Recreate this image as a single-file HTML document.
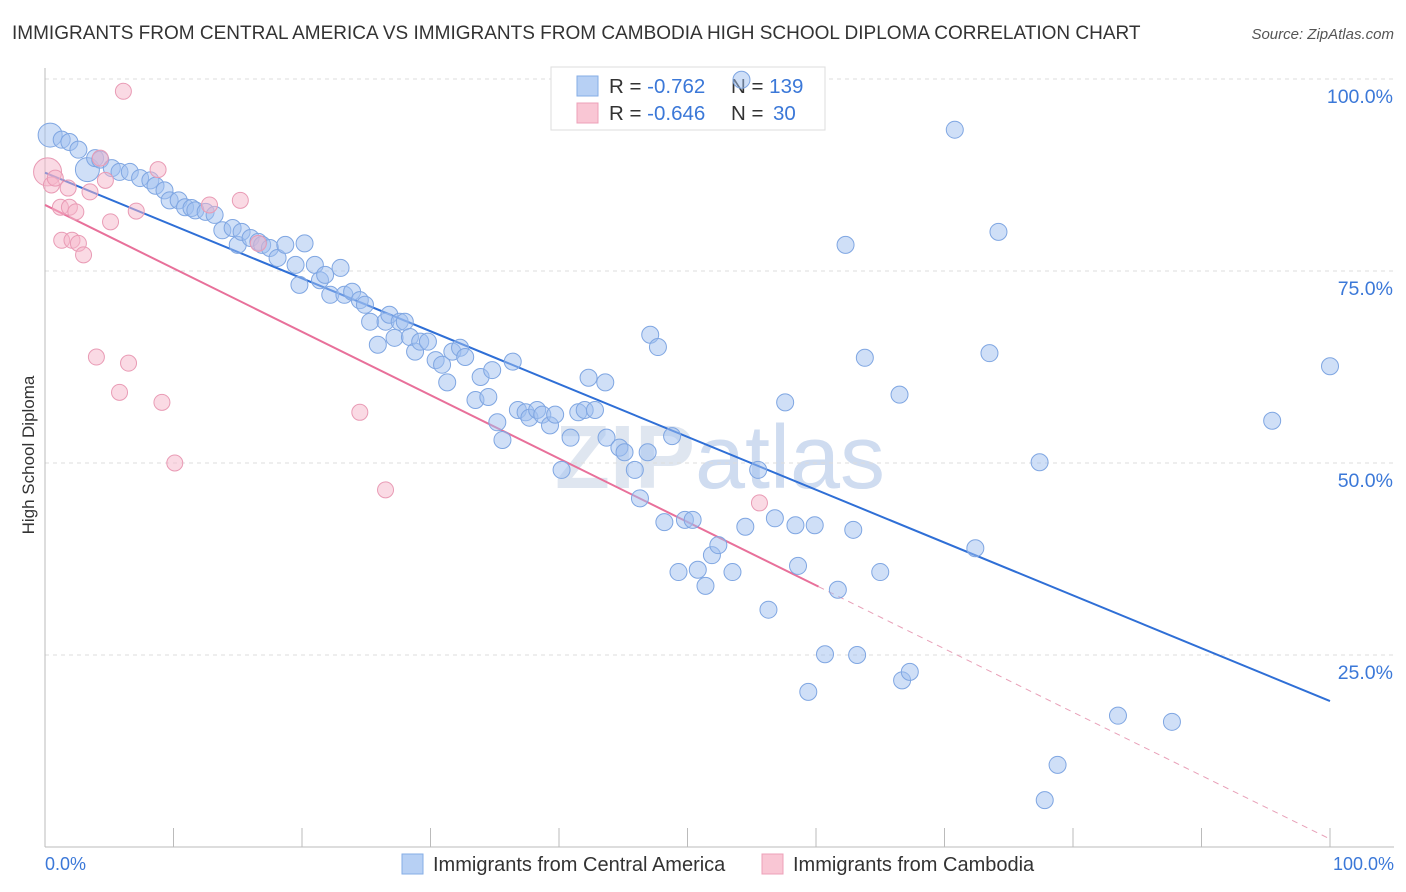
<!DOCTYPE html>
<html><head><meta charset="utf-8"><style>
body{margin:0;background:#fff;font-family:"Liberation Sans",sans-serif;}
svg{display:block}
</style></head><body>
<svg id="chart" width="1406" height="892" xmlns="http://www.w3.org/2000/svg">
<text x="12" y="39" font-size="19" fill="#333">IMMIGRANTS FROM CENTRAL AMERICA VS IMMIGRANTS FROM CAMBODIA HIGH SCHOOL DIPLOMA CORRELATION CHART</text>
<text x="1394" y="39" font-size="15" fill="#555" font-style="italic" text-anchor="end">Source: ZipAtlas.com</text>
<text x="720" y="488" font-size="90" fill="#dfe6f0" text-anchor="middle" font-weight="bold">ZIP<tspan font-weight="normal" fill="#cfdcf0">atlas</tspan></text>
<g id="grid"></g>
<g id="axes"></g>
<g>
<rect x="551" y="67" width="274" height="63" fill="#fff" stroke="#ddd"/>
<rect x="577" y="76" width="21" height="20" fill="#b7d0f4" stroke="#86aee6"/>
<rect x="577" y="103" width="21" height="20" fill="#f9c6d4" stroke="#eda0b8"/>
<text x="609" y="93" font-size="20.5" fill="#333">R = <tspan fill="#3b78d8">-0.762</tspan><tspan x="731">N = </tspan><tspan fill="#3b78d8">139</tspan></text>
<text x="609" y="120" font-size="20.5" fill="#333">R = <tspan fill="#3b78d8">-0.646</tspan><tspan x="731">N = </tspan><tspan fill="#3b78d8" x="773">30</tspan></text>
</g>
<g id="lines"></g>
<g id="points"></g>
<text transform="translate(34,455) rotate(-90)" font-size="17" fill="#333" text-anchor="middle">High School Diploma</text>
<text x="45" y="870" font-size="18" fill="#3b78d8">0.0%</text>
<text x="1394" y="870" font-size="18" fill="#3b78d8" text-anchor="end">100.0%</text>
<g>
<rect x="402" y="854" width="21" height="20" fill="#b7d0f4" stroke="#86aee6"/>
<text x="433" y="871" font-size="20" fill="#333">Immigrants from Central America</text>
<rect x="762" y="854" width="21" height="20" fill="#f9c6d4" stroke="#eda0b8"/>
<text x="793" y="871" font-size="20" fill="#333">Immigrants from Cambodia</text>
</g>
</svg>
<script>
const blueX=[0.4,1.3,1.9,2.6,3.3,3.9,4.3,5.2,5.8,6.6,7.4,8.2,8.6,9.3,9.7,10.4,10.9,11.4,11.7,12.5,13.2,13.8,14.6,15.0,15.3,16.0,16.6,16.9,17.5,18.1,18.7,19.5,19.8,20.2,21.0,21.4,21.8,22.2,23.0,23.3,23.9,24.5,24.9,25.3,25.9,26.5,26.8,27.2,27.6,28.0,28.4,28.8,29.2,29.8,30.4,30.9,31.3,31.7,32.3,32.7,33.5,33.9,34.5,34.8,35.2,35.6,36.4,36.8,37.4,37.7,38.3,38.7,39.3,39.7,40.2,40.9,41.5,42.0,42.3,42.8,43.6,43.7,44.7,45.1,45.9,46.3,46.9,47.1,47.7,48.2,48.8,49.3,49.8,50.4,50.8,51.4,51.9,52.4,53.5,54.5,55.5,56.3,56.8,57.6,58.4,58.6,59.4,59.9,60.7,61.7,62.3,62.9,63.2,63.8,65.0,66.5,66.7,67.3,70.8,72.4,73.5,74.2,77.4,77.8,78.8,83.5,87.7,95.5,100,54.2];
const blueY=[92.7,92.1,91.8,90.8,88.2,89.7,89.5,88.4,87.9,87.9,87.1,86.8,86.1,85.5,84.2,84.2,83.3,83.2,82.9,82.7,82.3,80.3,80.6,78.4,80.1,79.3,78.8,78.4,78.0,76.7,78.4,75.8,73.2,78.6,75.8,73.8,74.5,71.9,75.4,71.9,72.3,71.2,70.6,68.4,65.4,68.4,69.3,66.3,68.4,68.4,66.4,64.5,65.8,65.8,63.4,62.8,60.5,64.5,65.0,63.8,58.2,61.2,58.6,62.1,55.3,53.0,63.2,56.9,56.6,55.9,56.9,56.3,54.9,56.3,49.1,53.3,56.6,56.9,61.1,56.9,60.5,53.3,52.0,51.4,49.1,45.4,51.4,66.7,65.1,42.3,53.5,35.8,42.6,42.6,36.1,34.0,38.0,39.3,35.8,41.7,49.1,30.9,42.8,57.9,41.9,36.6,20.2,41.9,25.1,33.5,78.4,41.3,25.0,63.7,35.8,58.9,21.7,22.8,93.4,38.9,64.3,80.1,50.1,6.1,10.7,17.1,16.3,55.5,62.6,99.9];
const pinkX=[0.2,0.5,0.8,1.2,1.3,1.8,1.9,2.1,2.4,2.6,3.0,3.5,4.0,4.3,4.7,5.1,6.1,6.5,7.1,5.8,8.8,9.1,10.1,12.8,15.2,24.5,26.5,55.6,16.6];
const pinkY=[87.9,86.2,87.1,83.3,79.0,85.8,83.3,79.0,82.7,78.6,77.1,85.3,63.8,89.7,86.8,81.4,98.4,63.0,82.8,59.2,88.2,57.9,50.0,83.6,84.2,56.6,46.5,44.8,78.6];
const blueTrend=[87.8,19.0];
const pinkTrend=[83.6,33.9,60.2];
const yTicks=[25,50,75,100];
const yTickLabels=["25.0%","50.0%","75.0%","100.0%"];
const xTicks=[10,20,30,40,50,60,70,80,90,100];

const NS="http://www.w3.org/2000/svg";
const sx=v=>45+v*12.85, sy=v=>847-v*7.68;
function mk(tag,attrs,parent){const e=document.createElementNS(NS,tag);for(const k in attrs)e.setAttribute(k,attrs[k]);parent.appendChild(e);return e;}
const grid=document.getElementById('grid'),axes=document.getElementById('axes'),lines=document.getElementById('lines'),pts=document.getElementById('points');
yTicks.forEach((t,i)=>{
 const l=mk('line',{x1:45,x2:1394,y1:sy(t),y2:sy(t),stroke:'#ddd','stroke-dasharray':'4,4'},grid);
 
 
 const tx=mk('text',{x:1393,y:sy(t)+24,'font-size':19.5,fill:'#3b78d8','text-anchor':'end'},grid);
 tx.textContent=yTickLabels[i];
 
 
});
const ya=mk('line',{x1:45,x2:45,y1:68,y2:847,stroke:'#bbb'},axes);


const xa=mk('line',{x1:45,x2:1394,y1:847,y2:847,stroke:'#bbb'},axes);


xTicks.forEach(t=>{
 const l=mk('line',{x1:sx(t),x2:sx(t),y1:828,y2:847,stroke:'#bbb'},axes);
 
 
});
function dot(x,y,fill,stroke,name,r){
 const c=mk('circle',{cx:sx(x),cy:sy(y),r:r,fill:fill,stroke:stroke,'stroke-width':1},pts);
 
 
}
blueX.forEach((x,i)=>dot(x,blueY[i],'rgba(160,192,240,0.5)','#7fa6e2','point-central-america',(i===0||i===4)?12:8.5));
pinkX.forEach((x,i)=>dot(x,pinkY[i],'rgba(246,182,202,0.5)','#e99bb5','point-cambodia',i===0?14:8));
const bl=mk('line',{x1:sx(0),y1:sy(blueTrend[0]),x2:sx(100),y2:sy(blueTrend[1]),stroke:'#2f6fd6','stroke-width':2},lines);


const pl=mk('line',{x1:sx(0),y1:sy(pinkTrend[0]),x2:sx(pinkTrend[2]),y2:sy(pinkTrend[1]),stroke:'#e8709a','stroke-width':2},lines);


const slope=(pinkTrend[1]-pinkTrend[0])/pinkTrend[2];
const pd=mk('line',{x1:sx(pinkTrend[2]),y1:sy(pinkTrend[1]),x2:sx(100),y2:sy(pinkTrend[0]+slope*100),stroke:'#e8a0b8','stroke-width':1,'stroke-dasharray':'6,5'},lines);


</script>
</body></html>
